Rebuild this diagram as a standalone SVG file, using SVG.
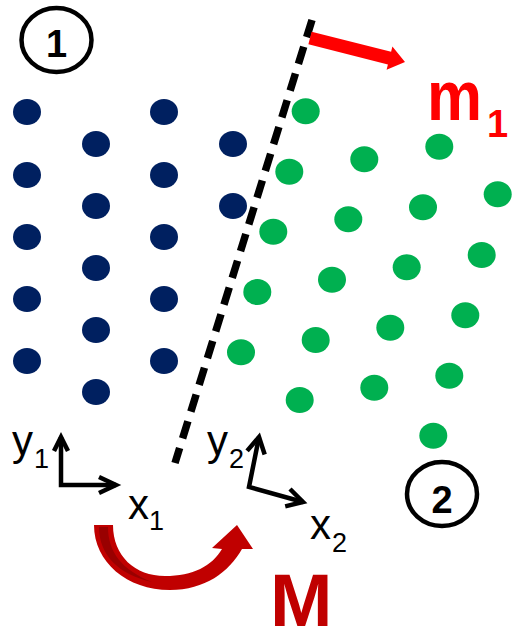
<svg xmlns="http://www.w3.org/2000/svg" width="512" height="630" viewBox="0 0 512 630">
<style>
.b{fill:#002060}
.g{fill:#00B050}
.ax{fill:none;stroke:#000;stroke-width:4.5;stroke-linejoin:miter;stroke-linecap:butt}
.lbl{font-family:"Liberation Sans",Arial,sans-serif;font-size:42px;fill:#000}
.sub{font-size:27px}
.num{font-family:"Liberation Sans",Arial,sans-serif;font-weight:bold;font-size:38px;fill:#000;text-anchor:middle}
.circ{fill:none;stroke:#000;stroke-width:4.5}
</style>
<rect width="512" height="630" fill="#fff"/>
<g id="region1-dots">
<ellipse class="b" cx="27" cy="112" rx="14" ry="13"/>
<ellipse class="b" cx="27" cy="175" rx="14" ry="13"/>
<ellipse class="b" cx="27" cy="237" rx="14" ry="13"/>
<ellipse class="b" cx="27" cy="299" rx="14" ry="13"/>
<ellipse class="b" cx="27" cy="361" rx="14" ry="13"/>
<ellipse class="b" cx="96" cy="144" rx="14" ry="13"/>
<ellipse class="b" cx="96" cy="206" rx="14" ry="13"/>
<ellipse class="b" cx="96" cy="268" rx="14" ry="13"/>
<ellipse class="b" cx="96" cy="330" rx="14" ry="13"/>
<ellipse class="b" cx="96" cy="392" rx="14" ry="13"/>
<ellipse class="b" cx="164" cy="112" rx="14" ry="13"/>
<ellipse class="b" cx="164" cy="175" rx="14" ry="13"/>
<ellipse class="b" cx="164" cy="237" rx="14" ry="13"/>
<ellipse class="b" cx="164" cy="299" rx="14" ry="13"/>
<ellipse class="b" cx="164" cy="361" rx="14" ry="13"/>
<ellipse class="b" cx="233" cy="144" rx="14" ry="13"/>
<ellipse class="b" cx="233" cy="206" rx="14" ry="13"/>
</g>
<g id="region2-dots">
<ellipse class="g" cx="305.7" cy="111.3" rx="14" ry="13"/>
<ellipse class="g" cx="289.3" cy="171.7" rx="14" ry="13"/>
<ellipse class="g" cx="273.3" cy="231.7" rx="14" ry="13"/>
<ellipse class="g" cx="257.3" cy="292" rx="14" ry="13"/>
<ellipse class="g" cx="241" cy="352.3" rx="14" ry="13"/>
<ellipse class="g" cx="364.3" cy="159.3" rx="14" ry="13"/>
<ellipse class="g" cx="348.3" cy="219.3" rx="14" ry="13"/>
<ellipse class="g" cx="332" cy="279.7" rx="14" ry="13"/>
<ellipse class="g" cx="315.7" cy="340" rx="14" ry="13"/>
<ellipse class="g" cx="299.7" cy="400" rx="14" ry="13"/>
<ellipse class="g" cx="439.3" cy="146.7" rx="14" ry="13"/>
<ellipse class="g" cx="423" cy="207.3" rx="14" ry="13"/>
<ellipse class="g" cx="406.7" cy="267.3" rx="14" ry="13"/>
<ellipse class="g" cx="390.3" cy="327.7" rx="14" ry="13"/>
<ellipse class="g" cx="374.3" cy="387.7" rx="14" ry="13"/>
<ellipse class="g" cx="497.7" cy="194.3" rx="14" ry="13"/>
<ellipse class="g" cx="481.7" cy="255" rx="14" ry="13"/>
<ellipse class="g" cx="465.3" cy="315.3" rx="14" ry="13"/>
<ellipse class="g" cx="449.3" cy="375.7" rx="14" ry="13"/>
<ellipse class="g" cx="433.3" cy="435.7" rx="14" ry="13"/>
</g>
<g id="label1">
<ellipse class="circ" cx="56.5" cy="40" rx="35" ry="32"/>
<text class="num" x="56.5" y="57">1</text>
</g>
<g id="label2">
<ellipse class="circ" cx="442" cy="494" rx="35" ry="32"/>
<text class="num" x="442" y="513">2</text>
</g>
<g id="connectors">
<line id="boundary" x1="312" y1="20" x2="175" y2="463" stroke="#000" stroke-width="7.5" stroke-dasharray="18 10"/>
<polygon id="m1-arrow" fill="#FF0000" points="311.6,31.7 391.1,51.8 392.4,46.5 405,62 386.6,69.7 387.9,64.4 308.4,44.3"/>
<g id="M-arrow">
<path fill="#C00000" d="M94,525 C94,562 127,590 170,590 C205,590 229,572 242,549 L253,549 L237,525 L212,548 L222,549 C212,566 193,576 165,576 C135,576 113,556 113,525 Z"/>
<path fill="#990000" d="M99,527 L108,527 C108,552 122,570 152,582 C120,575 99,556 99,527 Z"/>
</g>
</g>
<g id="frame1">
<polyline class="ax" points="61,437 61,485 116,485"/>
<polyline class="ax" points="54,451 61,437 68,451"/>
<polyline class="ax" points="99,477 116,485 99,493"/>
<text class="lbl" x="12" y="455">y<tspan class="sub" dx="1" dy="13">1</tspan></text>
<text class="lbl" x="128" y="519">x<tspan class="sub" dx="0" dy="11">1</tspan></text>
</g>
<g id="frame2">
<polyline class="ax" points="259,437 249,487 303,502"/>
<polyline class="ax" points="247.1,450.9 259,437 264.7,454.5"/>
<polyline class="ax" points="290,489 303,502 285.2,506.4"/>
<text class="lbl" x="207" y="455">y<tspan class="sub" dx="1" dy="13">2</tspan></text>
<text class="lbl" x="310" y="539">x<tspan class="sub" dx="1" dy="13">2</tspan></text>
</g>
<g id="m1-label">
<text font-family="'Liberation Sans',Arial,sans-serif" font-weight="bold" fill="#FF0000"><tspan x="427" y="120" font-size="70" textLength="55" lengthAdjust="spacingAndGlyphs">m</tspan><tspan x="487" y="137" font-size="38">1</tspan></text>
</g>
<g id="M-label">
<text x="270" y="626" font-family="'Liberation Sans',Arial,sans-serif" font-weight="bold" font-size="75" fill="#C00000">M</text>
</g>
</svg>
